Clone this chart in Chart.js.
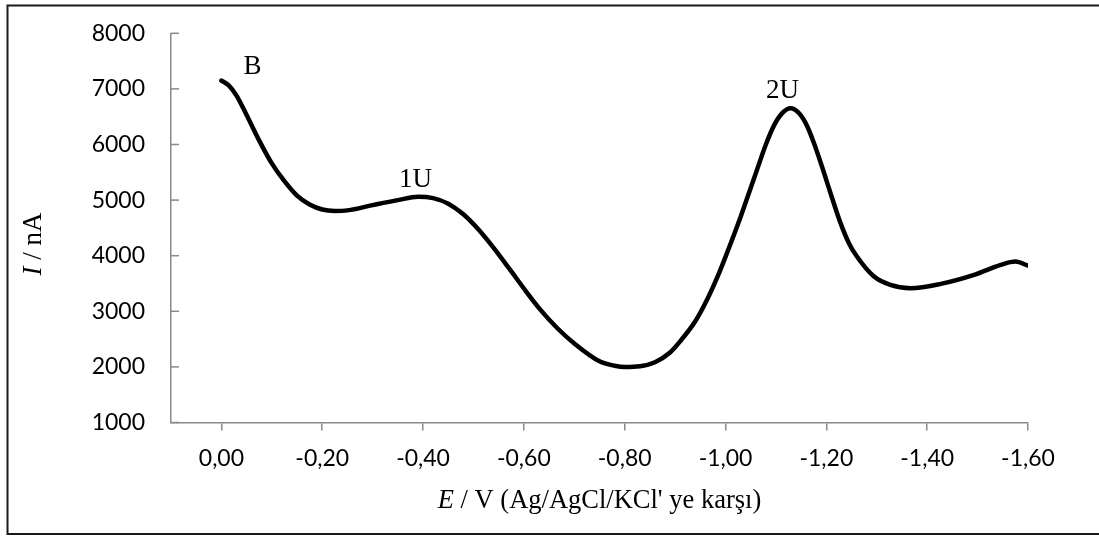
<!DOCTYPE html>
<html>
<head>
<meta charset="utf-8">
<script src="https://cdn.jsdelivr.net/npm/chart.js@4.4.0/dist/chart.umd.min.js"></script>
<style>
  html, body { margin: 0; padding: 0; background: #fff; }
  canvas { display: block; }
</style>
</head>
<body>
<canvas id="graph" width="1099" height="536"></canvas>
<script>
// potential (V) and current (nA)
const potential = [0.000, -0.015, -0.030, -0.050, -0.075, -0.100, -0.125, -0.150, -0.175, -0.200,
  -0.225, -0.250, -0.300, -0.350, -0.390, -0.420, -0.450, -0.480, -0.510, -0.540,
  -0.570, -0.600, -0.633, -0.666, -0.700, -0.750, -0.780, -0.800, -0.830, -0.860,
  -0.890, -0.910, -0.940, -0.964, -0.985, -1.003, -1.030, -1.053, -1.063, -1.080,
  -1.096, -1.112, -1.129, -1.145, -1.162, -1.178, -1.195, -1.212, -1.228, -1.245,
  -1.261, -1.294, -1.327, -1.367, -1.427, -1.493, -1.546, -1.575, -1.600];
const current = [7150, 7060, 6880, 6530, 6070, 5660, 5340, 5080, 4920, 4830,
  4805, 4815, 4910, 5000, 5060, 5035, 4935, 4745, 4470, 4140,
  3780, 3410, 3026, 2700, 2420, 2100, 2020, 1996, 2010, 2085,
  2260, 2460, 2820, 3220, 3640, 4050, 4700, 5300, 5560, 6000,
  6340, 6560, 6652, 6570, 6330, 5960, 5500, 5020, 4590, 4220,
  3980, 3630, 3475, 3416, 3493, 3655, 3835, 3894, 3820];

const xTicks = [0, -0.2, -0.4, -0.6, -0.8, -1.0, -1.2, -1.4, -1.6];
const yTicks = [1000, 2000, 3000, 4000, 5000, 6000, 7000, 8000];

// peak labels, placed in data coordinates (bottom centre of the text)
const peakLabels = ['B', '1U', '2U'];
const peakX = [-0.0615, -0.385, -1.113];
const peakY = [7268, 5237, 6837];

const axisGrey = '#8a8a8a';
const tickFont = { family: 'Lato, "Open Sans", sans-serif', size: 23 };
const serif = '"Liberation Serif", "Times New Roman", serif';

function drawMixed(ctx, parts, cx, y, size) {
  let total = 0;
  parts.forEach(p => {
    ctx.font = (p[1] ? 'italic ' : '') + size + 'px ' + serif;
    total += ctx.measureText(p[0]).width;
  });
  let x = cx - total / 2;
  ctx.textAlign = 'left';
  parts.forEach(p => {
    ctx.font = (p[1] ? 'italic ' : '') + size + 'px ' + serif;
    ctx.fillText(p[0], x, y);
    x += ctx.measureText(p[0]).width;
  });
}

const extras = {
  id: 'extras',
  afterDraw(chart) {
    const ctx = chart.ctx;
    const xs = chart.scales.x;
    const ys = chart.scales.y;
    ctx.save();

    // y ticks point into the plot
    ctx.strokeStyle = axisGrey;
    ctx.lineWidth = 1.5;
    yTicks.forEach(v => {
      const py = ys.getPixelForValue(v);
      ctx.beginPath();
      ctx.moveTo(xs.left, py);
      ctx.lineTo(xs.left + 8, py);
      ctx.stroke();
    });

    ctx.fillStyle = '#000';
    ctx.textBaseline = 'alphabetic';
    ctx.textAlign = 'center';
    ctx.font = '27px ' + serif;
    peakLabels.forEach((t, i) => {
      ctx.fillText(t, xs.getPixelForValue(peakX[i]), ys.getPixelForValue(peakY[i]));
    });

    drawMixed(ctx, [['E', true], [" / V (Ag/AgCl/KCl' ye karşı)", false]], (xs.left + xs.right) / 2, 508, 26.5);

    ctx.save();
    ctx.translate(41, 244);
    ctx.rotate(-Math.PI / 2);
    drawMixed(ctx, [['I', true], [' / nA', false]], 0, 0, 27);
    ctx.restore();

    // outer frame (right side runs off the picture)
    ctx.strokeStyle = '#1a1a1a';
    ctx.lineWidth = 2;
    ctx.strokeRect(7.5, 5.5, 1110, 528.5);
    ctx.restore();
  }
};

const ctx = document.getElementById('graph').getContext('2d');
const chart = new Chart(ctx, {
  type: 'scatter',
  data: {
    datasets: [{
      data: potential.map((v, i) => ({ x: v, y: current[i] })),
      showLine: true,
      borderColor: '#000',
      borderWidth: 4.5,
      borderCapStyle: 'round',
      borderJoinStyle: 'round',
      pointRadius: 0,
      cubicInterpolationMode: 'monotone',
    }],
  },
  options: {
    responsive: false,
    animation: false,
    layout: { padding: { left: 0, top: 33.3, right: 71, bottom: 0 } },
    plugins: { legend: { display: false }, tooltip: { enabled: false } },
    scales: {
      x: {
        type: 'linear',
        min: -1.6,
        max: 0.1,
        reverse: true,
        afterFit: s => { s.height = 113.5; },
        afterBuildTicks: s => { s.ticks = xTicks.map(v => ({ value: v })); },
        grid: { drawOnChartArea: false, tickLength: 8, color: axisGrey, lineWidth: 1.5 },
        border: { color: axisGrey, width: 1.5 },
        ticks: {
          color: '#000',
          font: tickFont,
          padding: 14,
          maxRotation: 0,
          callback: v => v.toFixed(2).replace('.', ','),
        },
      },
      y: {
        min: 1000,
        max: 8000,
        afterFit: s => { s.width = 171; },
        afterBuildTicks: s => { s.ticks = yTicks.map(v => ({ value: v })); },
        // invisible outer ticks only make room for the labels; the real ticks are drawn inside
        grid: { drawOnChartArea: false, tickLength: 26, color: 'rgba(0,0,0,0)' },
        border: { color: axisGrey, width: 1.5 },
        ticks: {
          color: '#000',
          font: tickFont,
          padding: 0,
          callback: v => String(v),
        },
      },
    },
  },
  plugins: [extras],
});
</script>
</body>
</html>
